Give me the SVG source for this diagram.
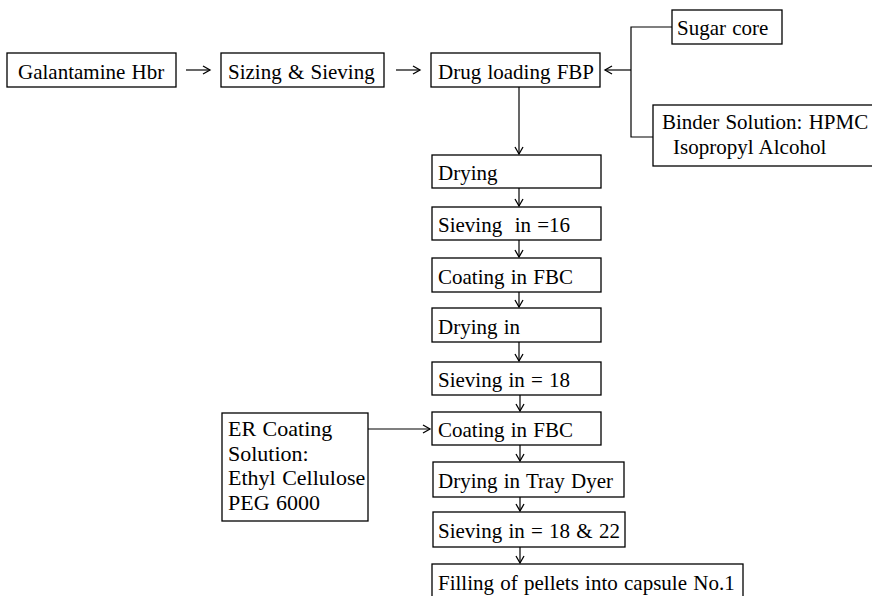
<svg xmlns="http://www.w3.org/2000/svg" width="872" height="596" viewBox="0 0 872 596">
<defs>
<style>
rect{fill:#fff;stroke:#000;stroke-width:1.3}
text{font-family:"Liberation Serif","Times New Roman",serif;font-size:21px;word-spacing:1px;fill:#000;white-space:pre}
.er{font-size:22px}
.c{fill:none;stroke:#000;stroke-width:1.2}
</style>
<marker id="a" markerWidth="10" markerHeight="10" refX="8" refY="5" orient="auto" markerUnits="userSpaceOnUse">
<path d="M1,1 L8,5 L1,9" fill="none" stroke="#000" stroke-width="1.3"/>
</marker>
</defs>
<g id="connectors">
<path class="c" d="M186,70 H210" marker-end="url(#a)"/>
<path class="c" d="M396,70 H420" marker-end="url(#a)"/>
<path class="c" d="M631,70 H605" marker-end="url(#a)"/>
<path class="c" d="M672,27 H631 V137 H653"/>
<path class="c" d="M519,87 V154" marker-end="url(#a)"/>
<path class="c" d="M519,188 V206" marker-end="url(#a)"/>
<path class="c" d="M519,240 V257" marker-end="url(#a)"/>
<path class="c" d="M519,292 V307" marker-end="url(#a)"/>
<path class="c" d="M519,342 V361" marker-end="url(#a)"/>
<path class="c" d="M520,395 V411" marker-end="url(#a)"/>
<path class="c" d="M520,445 V461" marker-end="url(#a)"/>
<path class="c" d="M520,497 V511" marker-end="url(#a)"/>
<path class="c" d="M520,547 V563" marker-end="url(#a)"/>
<path class="c" d="M368,429 H430" marker-end="url(#a)"/>
</g>
<g id="galantamine"><rect x="7" y="53" width="169" height="34"/><text x="18" y="79">Galantamine Hbr</text></g>
<g id="sizing"><rect x="221" y="53" width="163" height="34"/><text x="228" y="79">Sizing &amp; Sieving</text></g>
<g id="drugloading"><rect x="431" y="53" width="169" height="34"/><text x="438" y="79">Drug loading FBP</text></g>
<g id="sugarcore"><rect x="672" y="10" width="110" height="34"/><text x="677" y="35">Sugar core</text></g>
<g id="binder"><rect x="653" y="105" width="222" height="61"/><text x="662" y="129">Binder Solution: HPMC</text><text x="673" y="154">Isopropyl Alcohol</text></g>
<g id="drying1"><rect x="432" y="155" width="169" height="33"/><text x="438" y="180">Drying</text></g>
<g id="sieving16"><rect x="432" y="207" width="169" height="33"/><text x="438" y="232">Sieving  in =16</text></g>
<g id="coating1"><rect x="432" y="258" width="169" height="34"/><text x="438" y="284">Coating in FBC</text></g>
<g id="drying2"><rect x="432" y="308" width="169" height="34"/><text x="438" y="334">Drying in</text></g>
<g id="sieving18"><rect x="432" y="362" width="169" height="33"/><text x="438" y="387">Sieving in = 18</text></g>
<g id="ercoating"><rect x="222" y="413" width="146" height="108"/><text class="er" x="228" y="436">ER Coating</text><text class="er" x="228" y="461">Solution:</text><text class="er" x="228" y="485">Ethyl Cellulose</text><text class="er" x="228" y="510">PEG 6000</text></g>
<g id="coating2"><rect x="432" y="412" width="169" height="33"/><text x="438" y="437">Coating in FBC</text></g>
<g id="drying3"><rect x="433" y="462" width="191" height="35"/><text x="438" y="488">Drying in Tray Dyer</text></g>
<g id="sieving1822"><rect x="433" y="512" width="192" height="35"/><text x="438" y="538">Sieving in = 18 &amp; 22</text></g>
<g id="filling"><rect x="432" y="564" width="311" height="34"/><text x="438" y="590">Filling of pellets into capsule No.1</text></g>
</svg>
